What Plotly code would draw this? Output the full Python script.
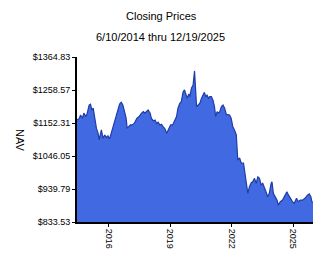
import plotly.graph_objects as go
import pandas as pd

# decimal years (first = 6/10/2014, last = 12/19/2025)
years = [2014.44, 2014.55, 2014.61, 2014.71, 2014.77, 2014.87, 2014.94, 2015.03, 2015.10, 2015.16,
         2015.23, 2015.30, 2015.39, 2015.47, 2015.52, 2015.63, 2015.71, 2015.79, 2015.87, 2015.95,
         2016.03, 2016.11, 2016.23, 2016.32, 2016.44, 2016.52, 2016.60, 2016.68, 2016.76, 2016.84,
         2016.89, 2016.97, 2017.04, 2017.13, 2017.23, 2017.36, 2017.47, 2017.59, 2017.68, 2017.75,
         2017.85, 2017.91, 2018.01, 2018.07, 2018.17, 2018.25, 2018.33, 2018.40, 2018.49, 2018.56,
         2018.65, 2018.72, 2018.82, 2018.92, 2019.01, 2019.11, 2019.21, 2019.30, 2019.37, 2019.46,
         2019.53, 2019.62, 2019.69, 2019.82, 2019.90, 2019.95, 2020.03, 2020.11, 2020.18, 2020.23,
         2020.28, 2020.35, 2020.44, 2020.52, 2020.60, 2020.66, 2020.73, 2020.79, 2020.86, 2020.92,
         2021.00, 2021.08, 2021.15, 2021.21, 2021.28, 2021.34, 2021.41, 2021.49, 2021.57, 2021.65,
         2021.73, 2021.81, 2021.89, 2021.97, 2022.05, 2022.13, 2022.22, 2022.29, 2022.38, 2022.46,
         2022.57, 2022.62, 2022.70, 2022.78, 2022.86, 2022.95, 2023.02, 2023.11, 2023.19, 2023.27,
         2023.35, 2023.43, 2023.51, 2023.59, 2023.67, 2023.75, 2023.83, 2023.92, 2023.96, 2024.03,
         2024.11, 2024.21, 2024.27, 2024.37, 2024.48, 2024.60, 2024.69, 2024.77, 2024.85, 2024.96,
         2025.05, 2025.16, 2025.24, 2025.34, 2025.45, 2025.57, 2025.69, 2025.78, 2025.86, 2025.91,
         2025.97]
nav = [1162, 1167, 1178, 1168, 1184, 1173, 1184, 1210, 1213, 1194,
       1200, 1173, 1135, 1119, 1098, 1130, 1103, 1114, 1105, 1111,
       1101, 1119, 1146, 1162, 1194, 1213, 1219, 1210, 1189, 1167,
       1135, 1140, 1146, 1146, 1151, 1167, 1173, 1184, 1189, 1184,
       1189, 1194, 1184, 1167, 1159, 1162, 1151, 1155, 1146, 1148,
       1140, 1135, 1119, 1135, 1146, 1146, 1162, 1173, 1200, 1216,
       1221, 1252, 1259, 1232, 1246, 1237, 1264, 1275, 1320, 1237,
       1205, 1210, 1216, 1232, 1245, 1251, 1237, 1242, 1232, 1237,
       1237, 1226, 1205, 1173, 1189, 1184, 1189, 1205, 1210, 1200,
       1180, 1178, 1178, 1167, 1140, 1130, 1114, 1033, 1040, 1023,
       1023, 1001, 953, 926, 947, 960, 963, 974, 958, 979,
       974, 953, 958, 947, 931, 915, 926, 958, 963, 926,
       915, 904, 888, 899, 904, 920, 931, 920, 910, 899,
       894, 910, 899, 904, 904, 910, 920, 924, 915, 899,
       896]

y_ticks = [833.53, 939.79, 1046.05, 1152.31, 1258.57, 1364.83]
y_labels = ["$833.53", "$939.79", "$1046.05", "$1152.31", "$1258.57", "$1364.83"]
x_ticks = ["2016-01-01", "2019-01-01", "2022-01-01", "2025-01-01"]
x_labels = ["2016", "2019", "2022", "2025"]

def to_date(y):
    yr = int(y)
    return pd.Timestamp(yr, 1, 1) + pd.Timedelta(days=round((y - yr) * 365.25))

dates = [to_date(y) for y in years]
dates[0] = pd.Timestamp("2014-06-10")
dates[-1] = pd.Timestamp("2025-12-19")

font = "Liberation Sans, Arial, sans-serif"

fig = go.Figure()
fig.add_trace(go.Scatter(
    x=dates, y=nav, mode="lines", fill="tozeroy",
    line=dict(color="#1f3da6", width=1.2),
    fillcolor="#4169e1", hoverinfo="skip"))

L, R, T, B = 77, 313, 57, 222
W, H = R - L, B - T

fig.update_layout(
    width=324, height=267,
    margin=dict(l=L, r=324 - R, t=T, b=267 - B),
    paper_bgcolor="white", plot_bgcolor="white",
    showlegend=False,
    font=dict(family=font, size=9, color="black"),
    annotations=[
        dict(text="Closing Prices", xref="paper", yref="paper", x=(161 - L) / W, y=(B - 16) / H,
             yanchor="middle", showarrow=False, font=dict(size=11)),
        dict(text="6/10/2014 thru 12/19/2025", xref="paper", yref="paper", x=(160 - L) / W, y=(B - 37) / H,
             yanchor="middle", showarrow=False, font=dict(size=11)),
        dict(text="NAV", xref="paper", yref="paper", x=(20 - L) / W, y=(B - 140) / H,
             xanchor="center", yanchor="middle", showarrow=False, textangle=90, font=dict(size=11)),
    ],
)

fig.update_xaxes(
    range=["2014-06-10", "2025-12-19"], tickvals=x_ticks, ticktext=x_labels, tickangle=90,
    showgrid=False, zeroline=False, showline=True, linecolor="black", linewidth=2,
    ticks="outside", ticklen=3, tickcolor="black", tickfont=dict(size=9))
fig.update_yaxes(
    range=[833.53, 1364.83], tickvals=y_ticks, ticktext=y_labels,
    showgrid=False, zeroline=False, showline=True, linecolor="black", linewidth=2,
    ticks="outside", ticklen=3, tickcolor="black", tickfont=dict(size=9))

fig.write_html("out.html")
